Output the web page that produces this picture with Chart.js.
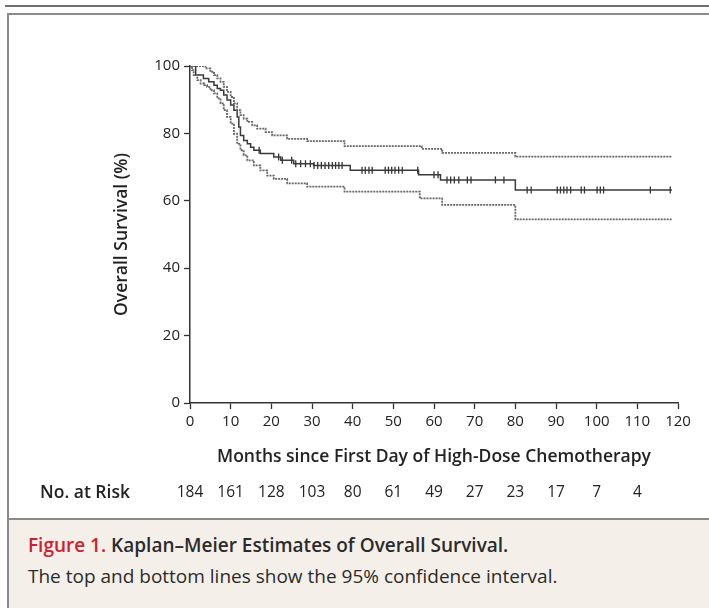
<!DOCTYPE html>
<html lang="en">
<head>
  <meta charset="UTF-8">
  <title>Kaplan–Meier Estimates of Overall Survival</title>
  <style>
    html, body {
      margin: 0;
      padding: 0;
      background: #fff;
    }
    body {
      width: 709px;
      height: 608px;
      position: relative;
      overflow: hidden;
      font-family: "Open Sans", sans-serif;
    }
    .rule-top {
      position: absolute;
      left: 5px; right: 0; top: 5px;
      height: 2px;
      background: #6e6e6e;
    }
    .frame {
      position: absolute;
      left: 7px; top: 13px; right: -6px; bottom: -6px;
      border: 2px solid #8a8a8a;
    }
    .chart-box {
      position: absolute;
      left: 0; top: 0;
      width: 709px; height: 518px;
    }
    .caption {
      position: absolute;
      left: 9px; right: 0; top: 518px; bottom: 0;
      background: #f4f0e9;
      border-top: 2px solid #8a8a8a;
      color: #2b2b2b;
      font-size: 19px;
    }
    .caption .title {
      position: absolute; left: 19px; top: 12px;
      font-weight: 600;
      white-space: nowrap;
    }
    .caption .title span { color: #d0202e; }
    .caption .note {
      position: absolute; left: 19px; top: 43px;
      white-space: nowrap;
    }
  </style>
  <script src="https://cdn.jsdelivr.net/npm/chart.js"></script>
</head>
<body>
  <div class="rule-top"></div>
  <div class="frame"></div>
  <div class="chart-box"><canvas id="km"></canvas></div>
  <div class="caption">
    <div class="title"><span>Figure 1.</span> Kaplan–Meier Estimates of Overall Survival.</div>
    <div class="note">The top and bottom lines show the 95% confidence interval.</div>
  </div>

  <script>
    // Kaplan-Meier estimate (months, % surviving after the step)
    const kmTimes    = [0, 1.4, 3.3, 4.6, 5.9, 6.7, 7.5, 8.3, 9.1, 10.0, 10.8, 11.6, 12.0, 12.4, 13.2, 14.1, 14.9, 15.7, 17.3, 20.6, 22.3, 25.5, 30.4, 39.4, 56.2, 61.6, 80.0, 118.5];
    const kmSurvival = [100, 97.3, 96.3, 95.3, 94.3, 93.3, 92.8, 91.4, 89.9, 88.4, 86.9, 84.9, 81.9, 79.4, 77.9, 76.9, 75.9, 75.0, 74.0, 73.0, 72.0, 71.0, 70.5, 69.1, 67.7, 66.2, 63.2, 63.2];

    // upper 95% confidence limit
    const upperTimes    = [0, 3.8, 5.0, 5.9, 6.7, 7.5, 8.3, 9.1, 10.0, 10.8, 11.6, 12.4, 13.2, 14.1, 15.3, 16.5, 18.6, 20.2, 23.9, 28.8, 38.0, 57.0, 62.0, 80.0, 118.5];
    const upperSurvival = [100, 99.3, 98.3, 97.3, 96.3, 95.3, 93.8, 92.3, 90.8, 88.9, 86.9, 85.4, 84.4, 83.4, 82.4, 81.4, 80.4, 79.4, 78.4, 77.7, 76.2, 75.4, 74.2, 73.1, 73.1];

    // lower 95% confidence limit
    const lowerTimes    = [0, 0.5, 0.9, 1.8, 2.6, 3.5, 4.2, 5.0, 5.9, 6.7, 7.5, 8.3, 9.1, 10.0, 10.8, 11.6, 12.4, 13.2, 14.1, 15.7, 17.3, 19.0, 20.6, 23.9, 28.8, 38.0, 56.5, 62.0, 80.0, 118.5];
    const lowerSurvival = [100, 98.8, 97.3, 95.8, 94.8, 94.3, 93.8, 92.8, 91.9, 90.4, 88.9, 86.9, 84.9, 82.9, 79.9, 76.9, 75.0, 73.5, 72.0, 70.5, 69.0, 67.5, 66.5, 65.2, 64.2, 62.7, 60.7, 58.8, 54.5, 54.5];

    // censored observations (months)
    const censorTimes = [17.0, 21.8, 22.7, 25.0, 26.0, 27.2, 28.4, 29.6, 30.5, 31.4, 32.3, 33.2, 34.1, 35.0, 35.8, 36.6, 37.4,
                         42.3, 43.1, 44.0, 44.8, 48.0, 48.8, 49.6, 50.4, 51.3, 52.2, 56.0, 60.0, 61.0, 63.2, 64.1, 65.0, 66.1,
                         68.2, 69.1, 75.1, 77.2, 82.9, 83.9, 90.3, 91.1, 91.9, 92.7, 93.6, 96.2, 97.0, 100.1, 100.9, 101.7, 113.2, 118.1];

    // number at risk
    const riskMonths = [0, 10, 20, 30, 40, 50, 60, 70, 80, 90, 100, 110];
    const riskCounts = [184, 161, 128, 103, 80, 61, 49, 27, 23, 17, 7, 4];

    const xTicks = [0, 10, 20, 30, 40, 50, 60, 70, 80, 90, 100, 110, 120];
    const yTicks = [0, 20, 40, 60, 80, 100];

    function toPoints(times, values) {
      return times.map((t, i) => ({ x: t, y: values[i] }));
    }

    // value of the KM step function at time t
    function survivalAt(t) {
      let v = kmSurvival[0];
      for (let i = 0; i < kmTimes.length; i++) {
        if (kmTimes[i] <= t) v = kmSurvival[i];
      }
      return v;
    }

    const axisColor = '#333';
    const tickFont = { family: 'Open Sans', size: 15 };
    const titleFont = { family: 'Open Sans', size: 17.5, weight: '600' };

    // draws the "No. at Risk" row under the x axis
    const atRiskPlugin = {
      id: 'atRisk',
      afterDraw(chart) {
        const ctx = chart.ctx;
        const xScale = chart.scales.x;
        const y = 493;
        ctx.save();
        ctx.fillStyle = '#222';
        ctx.textBaseline = 'middle';
        ctx.font = '600 17.5px "Open Sans"';
        ctx.textAlign = 'left';
        ctx.fillText('No. at Risk', 40, y);
        ctx.font = '15.5px "Open Sans"';
        ctx.textAlign = 'center';
        riskMonths.forEach((m, i) => {
          ctx.fillText(String(riskCounts[i]), xScale.getPixelForValue(m), y);
        });
        ctx.restore();
      }
    };

    new Chart(document.getElementById('km').getContext('2d'), {
      type: 'line',
      data: {
        datasets: [
          {
            label: 'Upper 95% CI',
            data: toPoints(upperTimes, upperSurvival),
            stepped: true,
            borderColor: '#666',
            borderWidth: 1.8,
            borderDash: [2, 1],
            pointRadius: 0,
            fill: false
          },
          {
            label: 'Lower 95% CI',
            data: toPoints(lowerTimes, lowerSurvival),
            stepped: true,
            borderColor: '#666',
            borderWidth: 1.8,
            borderDash: [2, 1],
            pointRadius: 0,
            fill: false
          },
          {
            label: 'Overall survival',
            data: toPoints(kmTimes, kmSurvival),
            stepped: true,
            borderColor: '#3a3a3a',
            borderWidth: 1.5,
            pointRadius: 0,
            fill: false
          },
          {
            type: 'scatter',
            label: 'Censored',
            data: censorTimes.map(t => ({ x: t, y: survivalAt(t) })),
            showLine: false,
            pointStyle: 'line',
            rotation: 90,
            radius: 3.5,
            borderWidth: 1.3,
            borderColor: '#333',
            backgroundColor: '#333'
          }
        ]
      },
      options: {
        responsive: true,
        maintainAspectRatio: false,
        animation: false,
        events: [],
        layout: {
          padding: { left: 110, top: 66, right: 31, bottom: 45 }
        },
        scales: {
          x: {
            type: 'linear',
            min: 0,
            max: 120,
            afterBuildTicks: scale => { scale.ticks = xTicks.map(v => ({ value: v })); },
            afterFit: scale => { scale.height = 70; },
            grid: { drawOnChartArea: false, drawTicks: true, tickLength: 6, color: axisColor, tickWidth: 1.3 },
            border: { display: true, color: axisColor, width: 1.5 },
            ticks: { color: '#222', font: tickFont, padding: 4, maxRotation: 0 },
            title: {
              display: true,
              text: 'Months since First Day of High-Dose Chemotherapy',
              color: '#222',
              font: titleFont,
              padding: { top: 0, bottom: 5 }
            }
          },
          y: {
            min: 0,
            max: 100,
            afterBuildTicks: scale => { scale.ticks = yTicks.map(v => ({ value: v })); },
            afterFit: scale => { scale.width = 80; },
            grid: { drawOnChartArea: false, drawTicks: true, tickLength: 6, color: axisColor, tickWidth: 1.3 },
            border: { display: true, color: axisColor, width: 1.5 },
            ticks: { color: '#222', font: tickFont, padding: 4 },
            title: {
              display: true,
              text: 'Overall Survival (%)',
              color: '#222',
              font: titleFont,
              padding: { top: 1.5, bottom: 0 }
            }
          }
        },
        plugins: {
          legend: { display: false },
          tooltip: { enabled: false }
        }
      },
      plugins: [atRiskPlugin]
    });
  </script>
</body>
</html>
